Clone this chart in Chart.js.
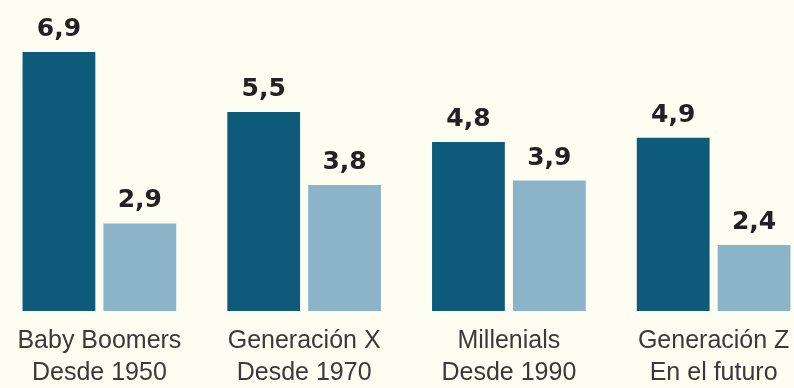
<!DOCTYPE html>
<html lang="es">
<head>
<meta charset="utf-8">
<title>Generaciones</title>
<script src="https://cdn.jsdelivr.net/npm/chart.js@4/dist/chart.umd.min.js"></script>
<style>
  html, body {
    margin: 0;
    padding: 0;
    width: 794px;
    height: 388px;
    overflow: hidden;
    background: #fdfdf1;
  }
  #wrap {
    position: absolute;
    left: -3px;
    top: 0;
  }
</style>
</head>
<body>
<div id="wrap">
  <canvas id="chart" width="819" height="388"></canvas>
</div>
<script>
"use strict";

const generations = [
  ["Baby Boomers", "Desde 1950"],
  ["Generación X", "Desde 1970"],
  ["Millenials", "Desde 1990"],
  ["Generación Z", "En el futuro"],
];
const firstValues = [6.9, 5.5, 4.8, 4.9];
const secondValues = [2.9, 3.8, 3.9, 2.4];

const darkBlue = "#0e5a7b";
const lightBlue = "#8cb4c8";

// axis range of the printed graphic (bars start above zero)
const axisMin = 0.86;
const axisMax = 8.11;

function formatValue(v) {
  return v.toFixed(1).replace(".", ",");
}

const valueLabels = {
  id: "valueLabels",
  afterDatasetsDraw(chart) {
    const ctx = chart.ctx;
    ctx.save();
    ctx.font = "bold 25px 'DejaVu Sans'";
    ctx.fillStyle = "#222222";
    ctx.textAlign = "center";
    ctx.textBaseline = "alphabetic";
    chart.data.datasets.forEach((dataset, i) => {
      chart.getDatasetMeta(i).data.forEach((bar, j) => {
        ctx.fillText(formatValue(dataset.data[j]), bar.x, bar.y - 16);
      });
    });
    ctx.restore();
  },
};

new Chart(document.getElementById("chart"), {
  type: "bar",
  data: {
    labels: generations,
    datasets: [
      {
        data: firstValues,
        backgroundColor: darkBlue,
        categoryPercentage: 0.79,
        barPercentage: 0.9,
      },
      {
        data: secondValues,
        backgroundColor: lightBlue,
        categoryPercentage: 0.79,
        barPercentage: 0.9,
      },
    ],
  },
  options: {
    responsive: false,
    animation: false,
    layout: { padding: 0 },
    plugins: {
      legend: { display: false },
      tooltip: { enabled: false },
    },
    scales: {
      x: {
        grid: { display: false, drawTicks: false },
        border: { display: false },
        ticks: {
          color: "#3a3a3a",
          padding: 14,
          maxRotation: 0,
          font: { family: "'Liberation Sans', Arial, sans-serif", size: 25, lineHeight: 1.28 },
        },
        afterFit(scale) {
          scale.height = 77;
        },
      },
      y: {
        display: false,
        min: axisMin,
        max: axisMax,
      },
    },
  },
  plugins: [valueLabels],
});
</script>
</body>
</html>
